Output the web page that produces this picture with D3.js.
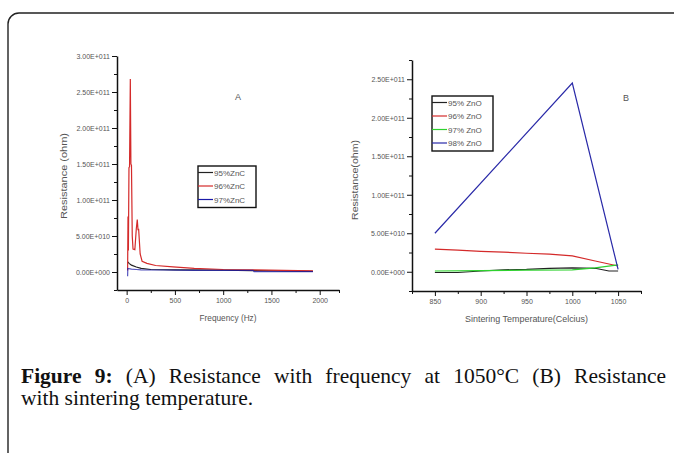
<!DOCTYPE html>
<html>
<head>
<meta charset="utf-8">
<script src="https://cdn.jsdelivr.net/npm/d3@7"></script>
<style>
  body { margin: 0; background: #fff; }
  svg { display: block; }
  .tick text { font-family: "Liberation Sans", Arial, sans-serif; font-size: 7px; fill: #555; }
  .axis path, .axis line { stroke: #111; }
  .lbl { font-family: "Liberation Sans", Arial, sans-serif; font-size: 9px; fill: #555; }
  .leg { font-family: "Liberation Sans", Arial, sans-serif; font-size: 8px; fill: #555; }
  .cap { font-family: "Liberation Serif", "Times New Roman", serif; font-size: 21.5px; fill: #111; }
</style>
</head>
<body>
<svg width="674" height="453"></svg>
<script>
// ---- panel A : resistance vs frequency (1050 C) ----
let aYTicks = [0, 5e10, 1e11, 1.5e11, 2e11, 2.5e11, 3e11];
let aYLabels = ['0.00E+000', '5.00E+010', '1.00E+011', '1.50E+011', '2.00E+011', '2.50E+011', '3.00E+011'];
let aXTicks = [0, 500, 1000, 1500, 2000];
let aXLabels = ['0', '500', '1000', '1500', '2000'];

let a95Freq = [12, 25, 50, 100, 150, 250, 500, 1000, 1300, 1930];
let a95Res  = [1.4e10, 1.2e10, 0.95e10, 0.7e10, 0.5e10, 0.35e10, 0.3e10, 0.25e10, 0.2e10, 0.1e10];

let a96Freq = [10, 14, 18, 24, 30, 38, 44, 50, 58, 66, 85, 100, 110, 118, 124, 140, 160, 210, 300, 480, 700, 1000, 1300, 1930];
let a96Res  = [0.2e10, 7.7e10, 3e10, 1.45e11, 1.46e11, 2.68e11, 1.5e11, 1.48e11, 5e10, 3.2e10, 3.1e10, 6e10, 7.3e10, 5.8e10, 6e10, 2.5e10, 1.5e10, 1.2e10, 0.9e10, 0.7e10, 0.5e10, 0.35e10, 0.3e10, 0.15e10];

let a97Freq = [10, 12, 50, 100, 150, 380, 700, 1310, 1320, 1930];
let a97Res  = [-0.6e10, 0.5e10, 0.4e10, 0.35e10, 0.3e10, 0.28e10, 0.22e10, 0.22e10, 0.05e10, 0.05e10];

// ---- panel B : resistance vs sintering temperature ----
let bYTicks = [0, 5e10, 1e11, 1.5e11, 2e11, 2.5e11];
let bYLabels = ['0.00E+000', '5.00E+010', '1.00E+011', '1.50E+011', '2.00E+011', '2.50E+011'];
let bXTicks = [850, 900, 950, 1000, 1050];
let bXLabels = ['850', '900', '950', '1000', '1050'];

let bTemp95 = [850, 875, 900, 925, 950, 975, 1000, 1025, 1040, 1050];
let b95Res  = [-0.1e10, -0.1e10, 0.1e10, 0.25e10, 0.3e10, 0.45e10, 0.5e10, 0.45e10, 0.1e10, 0.1e10];
let bTemp96 = [850, 875, 900, 925, 950, 975, 1000, 1025, 1050];
let b96Res  = [2.95e10, 2.8e10, 2.65e10, 2.55e10, 2.4e10, 2.3e10, 2.05e10, 1.4e10, 0.75e10];
let bTemp97 = [850, 900, 950, 1000, 1025, 1050];
let b97Res  = [0.1e10, 0.15e10, 0.2e10, 0.25e10, 0.5e10, 0.9e10];
let bTemp98 = [850, 1000, 1050];
let b98Res  = [5e10, 2.45e11, 0.3e10];

let aNames = ['95%ZnC', '96%ZnC', '97%ZnC'];
let bNames = ['95% ZnO', '96% ZnO', '97% ZnO', '98% ZnO'];

let svg = d3.select('svg');

// outer frame (runs off the right and bottom edges)
svg.append('rect')
  .attr('x', 8).attr('y', 13)
  .attr('width', 720).attr('height', 500)
  .attr('rx', 11)
  .attr('fill', 'none')
  .attr('stroke', '#222')
  .attr('stroke-width', 1.4);

function zip(xs, ys) { return xs.map((x, i) => ({x: x, y: ys[i]})); }

function panel(o) {
  let x = d3.scaleLinear().domain(o.xDom).range(o.xRange);
  let y = d3.scaleLinear().domain(o.yDom).range(o.yRange);
  let g = svg.append('g');

  // minor ticks first, then major ones with labels
  g.append('g').attr('class', 'axis')
    .attr('transform', `translate(0,${o.yRange[0]})`)
    .call(d3.axisBottom(x).tickValues(o.xMinor).tickSize(3).tickFormat(''))
    .select('.domain').remove();
  g.append('g').attr('class', 'axis')
    .attr('transform', `translate(${o.xRange[0]},0)`)
    .call(d3.axisLeft(y).tickValues(o.yMinor).tickSize(3).tickFormat(''))
    .select('.domain').remove();

  let xa = g.append('g').attr('class', 'axis')
    .attr('transform', `translate(0,${o.yRange[0]})`)
    .call(d3.axisBottom(x).tickValues(o.xTicks).tickSize(5).tickSizeOuter(0).tickPadding(3)
      .tickFormat((d, i) => o.xLabels[i]));
  let ya = g.append('g').attr('class', 'axis')
    .attr('transform', `translate(${o.xRange[0]},0)`)
    .call(d3.axisLeft(y).tickValues(o.yTicks).tickSize(5).tickSizeOuter(0).tickPadding(2)
      .tickFormat((d, i) => o.yLabels[i]));
  xa.select('.domain').attr('stroke-width', 1.5);
  ya.select('.domain').attr('stroke-width', 1.5);

  let line = d3.line().x(d => x(d.x)).y(d => y(d.y));
  o.series.forEach(s => {
    g.append('path')
      .datum(zip(s.xs, s.ys))
      .attr('fill', 'none')
      .attr('stroke', s.color)
      .attr('stroke-opacity', s.opacity || 1)
      .attr('stroke-width', s.width || 1.2)
      .attr('d', line);
  });

  // axis titles
  g.append('text').attr('class', 'lbl')
    .attr('x', d3.mean(o.xRange)).attr('y', o.yRange[0] + 31)
    .attr('text-anchor', 'middle')
    .attr('textLength', o.xTitleLen).attr('lengthAdjust', 'spacingAndGlyphs')
    .text(o.xTitle);
  g.append('text').attr('class', 'lbl')
    .attr('transform', `translate(${o.yTitleX},${o.yTitleY}) rotate(-90)`)
    .attr('text-anchor', 'middle')
    .attr('textLength', o.yTitleLen).attr('lengthAdjust', 'spacingAndGlyphs')
    .text(o.yTitle);

  g.append('text').attr('class', 'lbl')
    .attr('x', o.tag[0]).attr('y', o.tag[1])
    .attr('text-anchor', 'middle')
    .text(o.tagText);

  // legend
  let lg = g.append('g').attr('transform', `translate(${o.leg[0]},${o.leg[1]})`);
  lg.append('rect')
    .attr('width', o.leg[2]).attr('height', o.series.length * 13.5 + 1)
    .attr('fill', '#fff').attr('stroke', '#111').attr('stroke-width', 1.4);
  o.series.forEach((s, i) => {
    let yy = 6.5 + i * 13.5;
    lg.append('line').attr('x1', 0).attr('x2', 15).attr('y1', yy).attr('y2', yy)
      .attr('stroke', s.legColor || s.color).attr('stroke-width', 1.2);
    lg.append('text').attr('class', 'leg')
      .attr('x', 16).attr('y', yy + 3)
      .text(o.names[i]);
  });
}

panel({
  xDom: [-100, 2200], xRange: [117, 339],
  yDom: [-2.5e10, 3e11], yRange: [290, 56],
  xTicks: aXTicks, xLabels: aXLabels, xMinor: [250, 750, 1250, 1750, 2200],
  yTicks: aYTicks, yLabels: aYLabels, yMinor: [-2.5e10, 2.5e10, 7.5e10, 1.25e11, 1.75e11, 2.25e11, 2.75e11],
  series: [
    {xs: a95Freq, ys: a95Res, color: '#222'},
    {xs: a96Freq, ys: a96Res, color: '#d42a2a'},
    {xs: a97Freq, ys: a97Res, color: '#1a1aa8', opacity: 0.75, legColor: '#1a1aa8'}
  ],
  names: aNames,
  xTitle: 'Frequency (Hz)', xTitleLen: 57,
  yTitle: 'Resistance (ohm)', yTitleX: 67, yTitleY: 176, yTitleLen: 86,
  tag: [238, 100], tagText: 'A',
  leg: [198, 166, 58]
});

panel({
  xDom: [825, 1075], xRange: [412, 641],
  yDom: [-2.5e10, 2.75e11], yRange: [291, 60],
  xTicks: bXTicks, xLabels: bXLabels, xMinor: [825, 875, 925, 975, 1025, 1075],
  yTicks: bYTicks, yLabels: bYLabels, yMinor: [-2.5e10, 2.5e10, 7.5e10, 1.25e11, 1.75e11, 2.25e11, 2.75e11],
  series: [
    {xs: bTemp95, ys: b95Res, color: '#222'},
    {xs: bTemp96, ys: b96Res, color: '#d42a2a'},
    {xs: bTemp97, ys: b97Res, color: '#2ed12e'},
    {xs: bTemp98, ys: b98Res, color: '#2a2aa8'}
  ],
  names: bNames,
  xTitle: 'Sintering Temperature(Celcius)', xTitleLen: 123,
  yTitle: 'Resistance(ohm)', yTitleX: 358, yTitleY: 180, yTitleLen: 80,
  tag: [626, 101], tagText: 'B',
  leg: [432, 96, 61]
});

// caption, first line justified by widening the word gaps
let cap = svg.append('text').attr('class', 'cap')
  .attr('x', 21).attr('y', 383);
cap.append('tspan').attr('font-weight', 'bold').text('Figure 9:');
cap.append('tspan').text(' (A) Resistance with frequency at 1050°C (B) Resistance');
let natural = cap.node().getComputedTextLength();
cap.attr('word-spacing', Math.max(0, (645 - natural) / 9));

svg.append('text').attr('class', 'cap')
  .attr('x', 21).attr('y', 405)
  .text('with sintering temperature.');
</script>
</body>
</html>
